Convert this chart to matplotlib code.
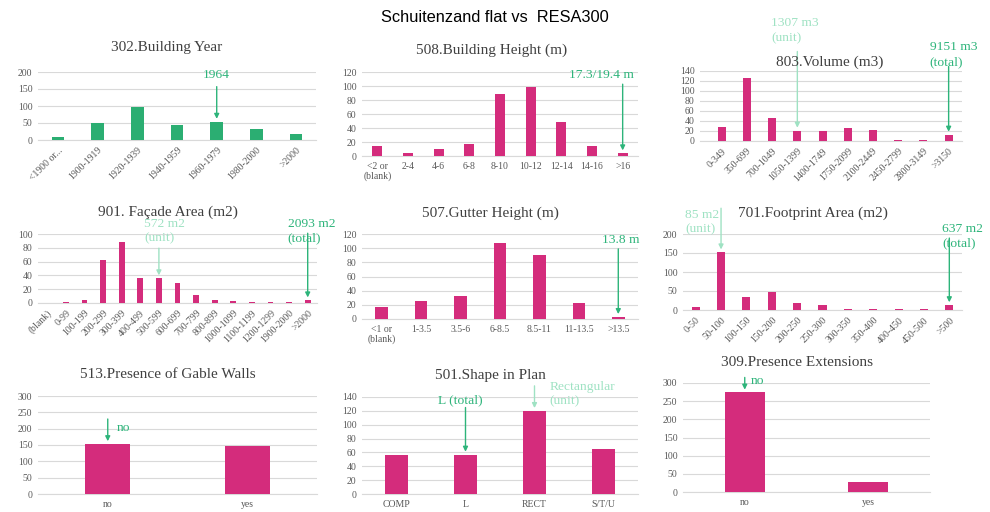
import numpy as np
import matplotlib
matplotlib.use("Agg")
import matplotlib.pyplot as plt

# ---- data ----
year_cats = ['<1900 or...', '1900-1919', '1920-1939', '1940-1959', '1960-1979', '1980-2000', '>2000']
year_vals = [8, 50, 96, 45, 54, 31, 17]

bheight_cats = ['<2 or\n(blank)', '2-4', '4-6', '6-8', '8-10', '10-12', '12-14', '14-16', '>16']
bheight_vals = [15, 4, 10, 17, 88, 98, 48, 14, 4]

volume_cats = ['0-349', '350-699', '700-1049', '1050-1399', '1400-1749', '1750-2099',
               '2100-2449', '2450-2799', '2800-3149', '>3150']
volume_vals = [28, 127, 47, 21, 21, 26, 22, 2, 2, 13]

facade_cats = ['(blank)', '0-99', '100-199', '200-299', '300-399', '400-499', '500-599', '600-699',
               '700-799', '800-899', '1000-1099', '1100-1199', '1200-1299', '1900-2000', '>2000']
facade_vals = [0, 2, 4, 63, 89, 36, 36, 29, 12, 4, 3, 2, 2, 2, 4]

gutter_cats = ['<1 or\n(blank)', '1-3.5', '3.5-6', '6-8.5', '8.5-11', '11-13.5', '>13.5']
gutter_vals = [17, 26, 33, 108, 90, 23, 3]

foot_cats = ['0-50', '50-100', '100-150', '150-200', '200-250', '250-300', '300-350',
             '350-400', '400-450', '450-500', '>500']
foot_vals = [7, 152, 35, 48, 18, 13, 3, 3, 3, 3, 13]

gable_cats = ['no', 'yes']
gable_vals = [153, 147]

shape_cats = ['COMP', 'L', 'RECT', 'S/T/U']
shape_vals = [57, 57, 120, 65]

ext_cats = ['no', 'yes']
ext_vals = [274, 28]

GREEN = '#2BAE72'
MAGENTA = '#D42C7C'
DARK_GREEN = '#2DB47A'
LIGHT_GREEN = '#9FE2C3'
GREY = '#595959'
SERIF = 'Liberation Serif'

W, H = 990, 512
fig = plt.figure(figsize=(W / 100, H / 100), dpi=100)


def panel(box, cats, vals, color, ymax, ystep, title, title_xy, rotate=False, xlim=None):
    left, top, right, bottom = box
    ax = fig.add_axes([left / W, 1 - bottom / H, (right - left) / W, (bottom - top) / H])
    x = np.arange(len(cats))
    ax.bar(x, vals, width=0.32, color=color, zorder=3)
    ax.set_ylim(0, ymax)
    ax.set_yticks(np.arange(0, ymax + 1, ystep))
    if xlim is None:
        xlim = (-0.5, len(cats) - 0.5)
    ax.set_xlim(*xlim)
    ax.set_xticks(x)
    if rotate:
        ax.set_xticklabels(cats, rotation=45, ha='right', rotation_mode='anchor')
    else:
        ax.set_xticklabels(cats, linespacing=1.1)
    for s in ['top', 'right', 'left']:
        ax.spines[s].set_visible(False)
    ax.spines['bottom'].set_color('#D9D9D9')
    ax.grid(axis='y', color='#D9D9D9', lw=0.8, zorder=0)
    ax.tick_params(length=0, labelsize=7, colors=GREY, pad=4)
    for lab in ax.get_xticklabels() + ax.get_yticklabels():
        lab.set_family(SERIF)
    fig.text(title_xy[0] / W, 1 - title_xy[1] / H, title, ha='center', va='center',
             family=SERIF, fontsize=11, color='#404040')
    return ax


def pointer(ax, i, val, color, length, label=None, dx=0, dy=0, ha='center'):
    ax.annotate('', xy=(i, val), xytext=(0, length), textcoords='offset pixels',
                arrowprops=dict(arrowstyle='-|>', color=color, lw=1.0, mutation_scale=7,
                                shrinkA=0, shrinkB=2), annotation_clip=False)
    if label:
        ax.annotate(label, xy=(i, val), xytext=(dx, dy), textcoords='offset pixels',
                    ha=ha, va='center', multialignment='left', color=color,
                    family=SERIF, fontsize=9.7, linespacing=1.3, annotation_clip=False)


fig.text(0.5, 1 - 17 / H, 'Schuitenzand flat vs  RESA300', ha='center', va='center',
         family='Liberation Sans', fontsize=11.8, color='black')

ax1 = panel((38, 72, 316, 140), year_cats, year_vals, GREEN, 200, 50,
            '302.Building Year', (167, 48), rotate=True)
pointer(ax1, 4, year_vals[4], DARK_GREEN, 35, '1964', 0, 47)

ax2 = panel((362, 72, 638, 156), bheight_cats, bheight_vals, MAGENTA, 120, 20,
            '508.Building Height (m)', (492, 50))
pointer(ax2, 8, bheight_vals[8], DARK_GREEN, 69, '17.3/19.4 m', 11, 78, ha='right')

ax3 = panel((700, 71, 962, 141), volume_cats, volume_vals, MAGENTA, 140, 20,
            '803.Volume (m3)', (830, 62), rotate=True, xlim=(-0.86, 9.53))
pointer(ax3, 3, volume_vals[3], LIGHT_GREEN, 79, '1307 m3\n(unit)', -26, 100, ha='left')
pointer(ax3, 9, volume_vals[9], DARK_GREEN, 68, '9151 m3\n(total)', -19, 80, ha='left')

ax4 = panel((38, 234, 317, 303), facade_cats, facade_vals, MAGENTA, 100, 20,
            '901. Façade Area (m2)', (168, 212), rotate=True)
pointer(ax4, 6, facade_vals[6], LIGHT_GREEN, 30, '572 m2\n(unit)', -15, 47, ha='left')
pointer(ax4, 14, facade_vals[14], DARK_GREEN, 67, '2093 m2\n(total)', -20, 69, ha='left')

ax5 = panel((362, 234, 638, 319), gutter_cats, gutter_vals, MAGENTA, 120, 20,
            '507.Gutter Height (m)', (490, 213))
pointer(ax5, 6, gutter_vals[6], DARK_GREEN, 68, '13.8 m', 2, 77)

ax6 = panel((683, 234, 962, 310), foot_cats, foot_vals, MAGENTA, 200, 50,
            '701.Footprint Area (m2)', (813, 213), rotate=True)
pointer(ax6, 1, foot_vals[1], LIGHT_GREEN, 44, '85 m2\n(unit)', -36, 30, ha='left')
pointer(ax6, 10, foot_vals[10], DARK_GREEN, 67, '637 m2\n(total)', -7, 69, ha='left')

ax7 = panel((38, 396, 317, 494), gable_cats, gable_vals, MAGENTA, 300, 50,
            '513.Presence of Gable Walls', (168, 375))
pointer(ax7, 0, gable_vals[0], DARK_GREEN, 25, 'no', 9, 16, ha='left')

ax8 = panel((362, 397, 638, 494), shape_cats, shape_vals, MAGENTA, 140, 20,
            '501.Shape in Plan', (490, 375))
pointer(ax8, 1, shape_vals[1], DARK_GREEN, 47, 'L (total)', -5, 54)
pointer(ax8, 2, shape_vals[2], LIGHT_GREEN, 25, 'Rectangular\n(unit)', 15, 17, ha='left')

ax9 = panel((683, 383, 930, 492), ext_cats, ext_vals, MAGENTA, 300, 50,
            '309.Presence Extensions', (797, 362))
pointer(ax9, 0, ext_vals[0], DARK_GREEN, 15, 'no', 6, 11, ha='left')

fig.savefig('out.png', dpi=100)
